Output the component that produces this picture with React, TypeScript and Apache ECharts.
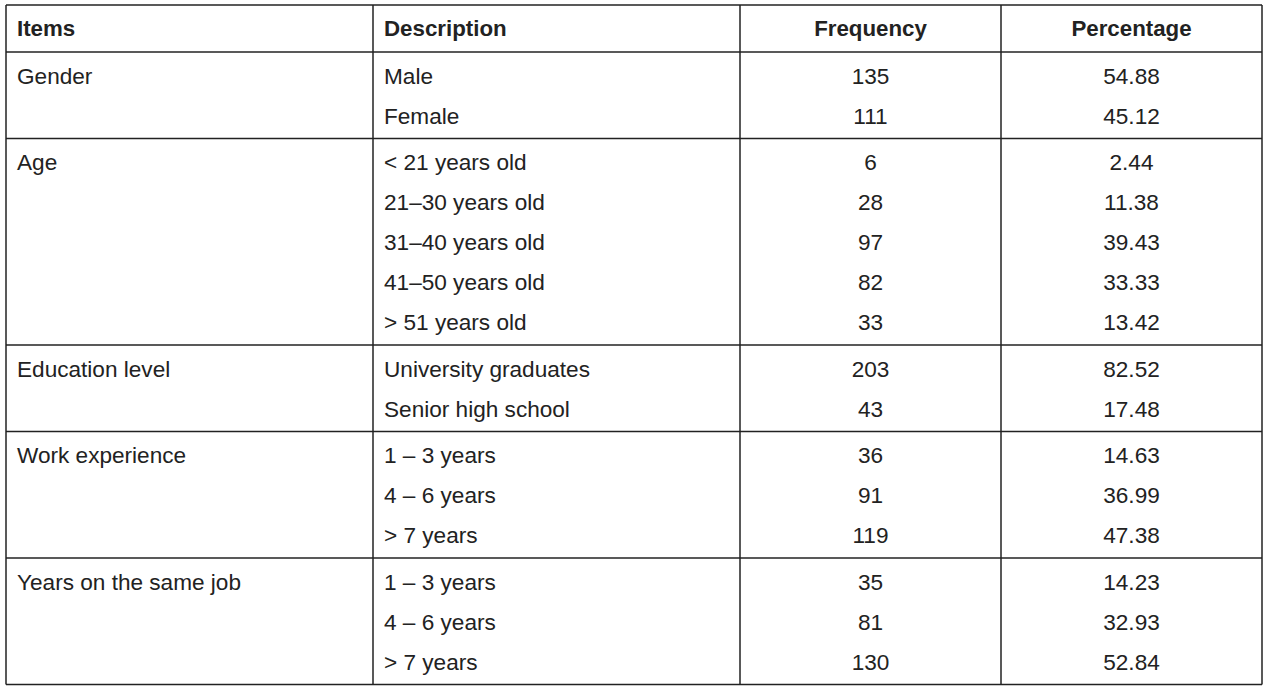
import React, { useEffect, useRef } from "react";
import * as echarts from "echarts";

const headers = ["Items", "Description", "Frequency", "Percentage"];
const groups = ["Gender", "Age", "Education level", "Work experience", "Years on the same job"];
const groupSizes = [2, 5, 2, 3, 3];
const descriptions = [
  "Male", "Female",
  "< 21 years old", "21–30 years old", "31–40 years old", "41–50 years old", "> 51 years old",
  "University graduates", "Senior high school",
  "1 – 3 years", "4 – 6 years", "> 7 years",
  "1 – 3 years", "4 – 6 years", "> 7 years",
];
const frequencies = ["135", "111", "6", "28", "97", "82", "33", "203", "43", "36", "91", "119", "35", "81", "130"];
const percentages = ["54.88", "45.12", "2.44", "11.38", "39.43", "33.33", "13.42", "82.52", "17.48", "14.63", "36.99", "47.38", "14.23", "32.93", "52.84"];

export default function App() {
  const ref = useRef<HTMLDivElement>(null);
  useEffect(() => {
    const chart = echarts.init(ref.current!, null, { renderer: "svg" });
    const FONT = "'Liberation Sans', Arial, sans-serif";
    const SIZE = 22.6;
    const HSIZE = 22.3;
    const COLOR = "#222";
    const LINE = "#222";
    const LW = 1.5;
    const left = 6, right = 1262, top = 5;
    const cols = [6, 373, 740, 1001, 1262];
    const headerBottom = 52;
    const rowGap = 40;
    const firstOffset = 24;
    const lastOffset = 22.5;

    const els: any[] = [];
    const addText = (text: string, x: number, y: number, align: string, bold = false) => {
      els.push({
        type: "text",
        x, y,
        style: {
          text, fill: COLOR, font: `${bold ? "bold " : ""}${bold ? HSIZE : SIZE}px ${FONT}`,
          textAlign: align, textVerticalAlign: "middle",
        },
      });
    };
    const hline = (y: number) => els.push({ type: "line", shape: { x1: left, y1: y, x2: right, y2: y }, style: { stroke: LINE, lineWidth: LW } });

    const headerY = (top + headerBottom) / 2;
    addText(headers[0], 17, headerY, "left", true);
    addText(headers[1], 384, headerY, "left", true);
    addText(headers[2], (cols[2] + cols[3]) / 2, headerY, "center", true);
    addText(headers[3], (cols[3] + cols[4]) / 2, headerY, "center", true);
    hline(top);
    hline(headerBottom);

    let y = headerBottom;
    let idx = 0;
    groups.forEach((g, gi) => {
      const n = groupSizes[gi];
      const c0 = y + firstOffset;
      addText(g, 17, c0, "left");
      for (let k = 0; k < n; k++) {
        const cy = c0 + k * rowGap;
        addText(descriptions[idx], 384, cy, "left");
        addText(frequencies[idx], (cols[2] + cols[3]) / 2, cy, "center");
        addText(percentages[idx], (cols[3] + cols[4]) / 2, cy, "center");
        idx++;
      }
      y = c0 + (n - 1) * rowGap + lastOffset;
      hline(y);
    });
    const bottom = y;
    cols.forEach((x) => els.push({ type: "line", shape: { x1: x, y1: top, x2: x, y2: bottom }, style: { stroke: LINE, lineWidth: LW } }));

    chart.setOption({ animation: false, graphic: { elements: els } });
    return () => chart.dispose();
  }, []);
  return <div ref={ref} style={{ position: "fixed", left: 0, top: 0, width: 1271, height: 694, background: "#fff" }} />;
}
